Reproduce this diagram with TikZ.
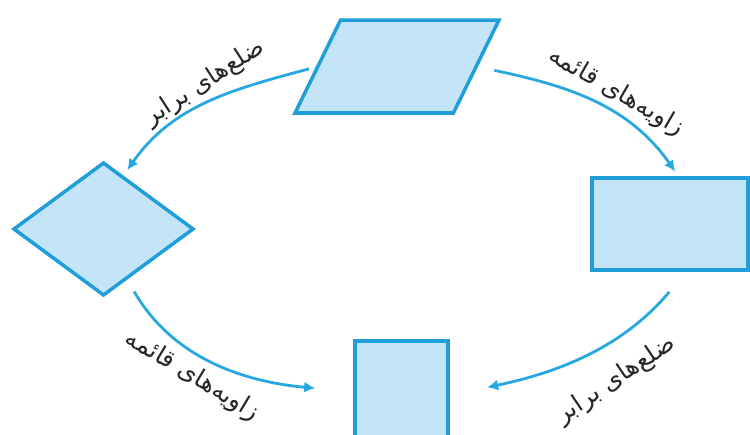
\documentclass[tikz,border=0pt]{standalone}
\usepackage{fontspec}
\newfontfamily\persianfont[Script=Arabic]{DejaVu Sans}
\TeXXeTstate=1
\usetikzlibrary{shapes.geometric,arrows.meta}
\definecolor{shapefill}{RGB}{196,229,247}
\definecolor{shapeline}{RGB}{32,158,218}
\definecolor{arrowline}{RGB}{40,168,224}

\begin{document}
\begin{tikzpicture}[x=0.02cm, y=0.02cm,
        myshape/.style={
            draw=shapeline,
            fill=shapefill,
            line width=2pt,
            inner sep=0pt,
            outer sep=0pt
        },
        myarrow/.style={
            draw=arrowline,
            line width=1.6pt,
            -{Latex[length=2.2mm,width=2.2mm]}
        },
        mylabel/.style={
            font=\persianfont\fontsize{14}{16}\selectfont,
            text=black!85,
            inner sep=1pt
        }
    ]
        \useasboundingbox (0,0) rectangle (750,434);

        % Figure
        \node[myshape, trapezium, trapezium stretches=true, inner sep=1pt,
              trapezium left angle=68, trapezium right angle=112,
              minimum width=4.08cm, minimum height=1.86cm] (para) at (397,367.5) {};
        \node[myshape, diamond, minimum width=3.58cm, minimum height=2.64cm] (rhom) at (103.5,205) {};
        \node[myshape, rectangle, minimum width=3.12cm, minimum height=1.84cm] (rect) at (670,210) {};
        \node[myshape, rectangle, minimum width=1.86cm, minimum height=1.96cm] (sq) at (401.5,44) {};

        % Frecce
        \draw[myarrow, shorten <=0.18cm, shorten >=0.17cm] (para.west) to[out=195, in=55] (rhom.70);
        \draw[myarrow, shorten <=0.37cm, shorten >=0.16cm] (para.east) to[out=-12, in=125] (rect.78);
        \draw[myarrow, shorten <=0.31cm, shorten >=0.8cm] (rhom.-65) to[out=-60, in=175] (sq.182);
        \draw[myarrow, shorten <=0.57cm, shorten >=0.8cm] (rect.-69) to[out=230, in=12] (sq.-7);

        % Etichette
        \node[mylabel, rotate=33] (lab1) at (205,351) {\beginR ضلع‌های برابر\endR};
        \node[mylabel, rotate=-30] (lab2) at (616,342) {\beginR زاویه‌های قائمه\endR};
        \node[mylabel, rotate=-31] (lab3) at (192,58) {\beginR زاویه‌های قائمه\endR};
        \node[mylabel, rotate=34] (lab4) at (616,54) {\beginR ضلع‌های برابر\endR};
    \end{tikzpicture}
\end{document}
